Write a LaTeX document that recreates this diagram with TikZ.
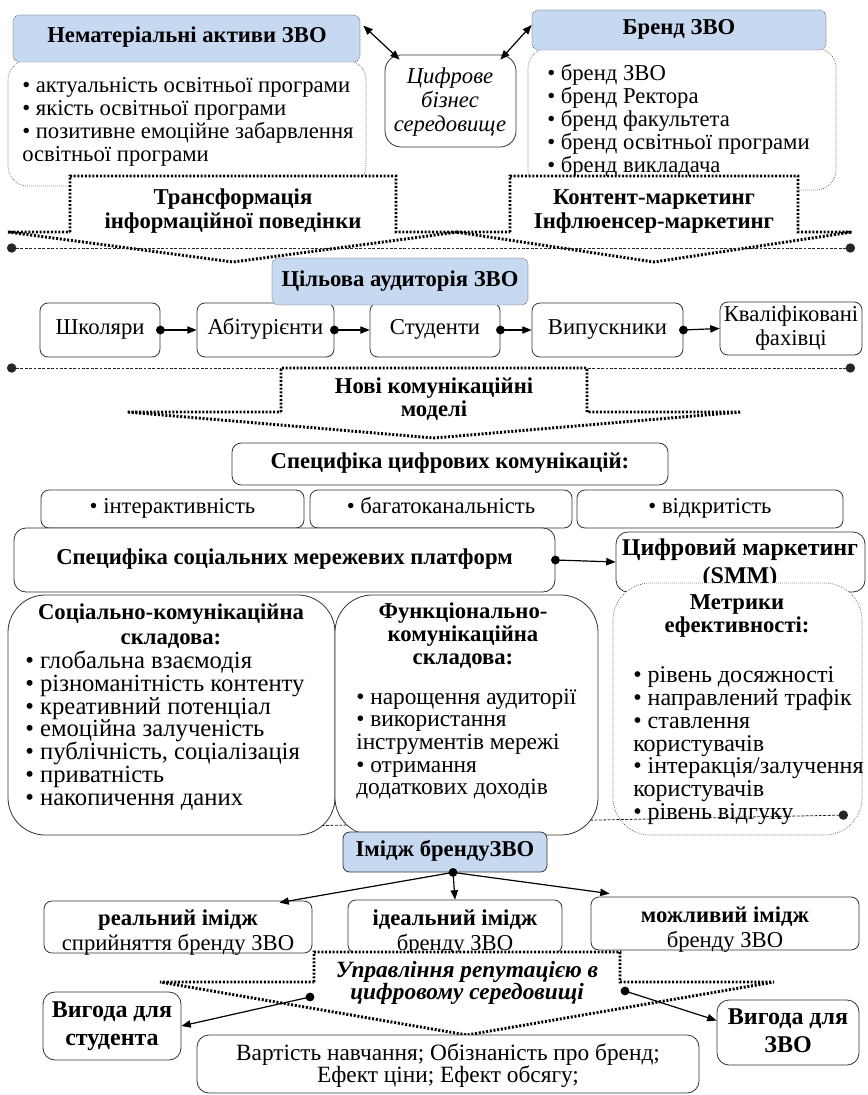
\documentclass[tikz,border=0pt]{standalone}
\usepackage{fontspec}
\setmainfont{Liberation Serif}
\usetikzlibrary{arrows.meta,fit}
\definecolor{hdrblue}{RGB}{198,217,241}
\newcommand\fs{\fontsize{17}{17.25}\selectfont\lineskiplimit=-20pt\lineskip=0pt}
\newcommand\fsl{\fontsize{18.5}{17.1}\selectfont\lineskiplimit=-20pt\lineskip=0pt}
\newcommand\fsm{\fontsize{18}{17.1}\selectfont\lineskiplimit=-20pt\lineskip=0pt}
\newcommand\fsf{\fontsize{17.5}{16.9}\selectfont\lineskiplimit=-20pt\lineskip=0pt}
\newcommand\fsb{\fontsize{17}{18.75}\selectfont\lineskiplimit=-20pt\lineskip=0pt}
\newcommand\fsc{\fontsize{17}{18}\selectfont\lineskiplimit=-20pt\lineskip=0pt}
\newcommand\fsd{\fontsize{18}{21}\selectfont\lineskiplimit=-20pt\lineskip=0pt}
\newcommand\fse{\fontsize{17.5}{16.5}\selectfont\lineskiplimit=-20pt\lineskip=0pt}
\begin{document}
\begin{tikzpicture}[x=0.75pt,y=-0.75pt,
 box/.style={draw=black!80, line width=0.6pt, fill=white, inner sep=0pt, rounded corners=6pt},
 dbox/.style={draw=black!75, line width=0.5pt, densely dotted, fill=white, inner sep=0pt},
 hdr/.style={dbox, fill=hdrblue, rounded corners=5pt},
 txt/.style={inner sep=0pt, font=\fs},
 bigarr/.style={draw=black, line width=2.2pt, dash pattern=on 1.5pt off 1.3pt, fill=white, line join=miter},
 dl/.style={draw=black!85, line width=0.6pt, dash pattern=on 2.2pt off 1.1pt, {Circle[length=7pt]}-{Circle[length=7pt]}},
 conn/.style={line width=0.9pt, -{Triangle[length=7pt,width=5.5pt]}},
 bconn/.style={line width=0.9pt, {Triangle[length=7pt,width=5.5pt]}-{Triangle[length=7pt,width=5.5pt]}},
 dot/.style={fill=black},
]
\useasboundingbox (0,0) rectangle (867,1095);

% ---------- top ----------
\node[dbox, rounded corners=15pt, fit={(8,60)(366,186)}] (nemb) {};
\node[hdr, fit={(13,15)(360,62)}] (nemh) {};
\node[txt, font=\fs\bfseries] (nemht) at (187,38) {\strut Нематеріальні активи ЗВО};
\node[txt, anchor=west, align=left] (neml) at (22,122.5) {\strut• актуальність освітньої програми\\• якість освітньої програми\\• позитивне емоційне забарвлення\\освітньої програми\strut};

\node[dbox, rounded corners=15pt, fit={(528,48)(836,190)}] (brb) {};
\node[hdr, fit={(532,10)(826,50)}] (brh) {};
\node[txt, font=\fs\bfseries] (brht) at (679,30) {\strut Бренд ЗВО};
\node[txt, anchor=west, align=left] (brl) at (547,122) {\strut• бренд ЗВО\\• бренд Ректора\\• бренд факультета\\• бренд освітньої програми\\• бренд викладача\strut};

\node[box, rounded corners=12pt, fit={(385,55)(516,147)}] (cifr) {};
\node[txt, font=\fsc\itshape, align=center] (cifrt) at (450,103) {\strut Цифрове\\бізнес\\середовище\strut};

\draw[bconn] ([shift={(3,11)}]nemh.north east) -- ([shift={(15,5)}]cifr.north west);
\draw[bconn] ([shift={(-16,5)}]cifr.north east) -- ([shift={(0,-5)}]brh.west);

\draw[bigarr] (70,232) -- (70,176) -- (396,176) -- (396,232) -- (458,232) -- (233,262) -- (8,232) -- cycle;
\node[txt, font=\fsc\bfseries, align=center] (trt) at (233,212) {\strut Трансформація\\інформаційної поведінки\strut};
\draw[bigarr] (510,232) -- (510,176) -- (798,176) -- (798,232) -- (852,232) -- (654,262) -- (456,232) -- cycle;
\node[txt, font=\fsc\bfseries, align=center] (kmt) at (654,212) {\strut Контент-маркетинг\\Інфлюенсер-маркетинг\strut};

\coordinate (d1a) at (7,248);
\coordinate (d1b) at (855,248);
\draw[dl] (d1a) -- (d1b);

% ---------- audience ----------
\node[box, fit={(40,303)(160,357)}] (shk) {};
\node[box, fit={(197,303)(334,357)}] (abit) {};
\node[box, fit={(370,303)(500,357)}] (stud) {};
\node[box, fit={(532,303)(683,357)}] (vyp) {};
\node[box, fit={(720,302)(862,355)}] (kval) {};
\node[txt] (shkt) at (shk.center) {\strut Школяри};
\node[txt] (abitt) at (abit.center) {\strut Абітурієнти};
\node[txt] (studt) at (stud.center) {\strut Студенти};
\node[txt] (vypt) at (vyp.center) {\strut Випускники};
\node[txt, align=center, font=\fsc] (kvalt) at (kval.center) {\strut Кваліфіковані\\фахівці\strut};
\node[hdr, fit={(272,258)(528,305)}] (cil) {};
\node[txt, font=\fs\bfseries] (cilt) at (cil.center) {\strut Цільова аудиторія ЗВО};
\draw[conn] (shk.east) -- (abit.west);
\draw[conn] (abit.east) -- (stud.west);
\draw[conn] (stud.east) -- (vyp.west);
\draw[conn] (vyp.east) -- (kval.west);
\fill[dot] (shk.east) circle (3.3pt) (abit.east) circle (3.3pt) (stud.east) circle (3.3pt) (vyp.east) circle (3.3pt);

\coordinate (d2a) at (7,368);
\coordinate (d2b) at (855,368);
\draw[dl] (d2a) -- (d2b);

\draw[bigarr] (281,412) -- (281,368) -- (587,368) -- (587,412) -- (741,412) -- (434,438) -- (127,412) -- cycle;
\node[txt, font=\fs\bfseries, align=center] (novt) at (434,400) {\strut Нові комунікаційні\\моделі\strut};

% ---------- digital comms ----------
\node[box, rounded corners=7pt, fit={(232,443)(668,485)}] (scif) {};
\node[txt, font=\fs\bfseries] (scift) at (scif.center) {\strut Специфіка цифрових комунікацій:};
\node[box, fit={(41,490)(304,528)}] (b1) {};
\node[box, fit={(310,490)(572,528)}] (b2) {};
\node[box, fit={(577,490)(843,528)}] (b3) {};
\node[txt] (b1t) at (b1.center) {\strut• інтерактивність};
\node[txt] (b2t) at (b2.center) {\strut• багатоканальність};
\node[txt] (b3t) at (b3.center) {\strut• відкритість};
\node[box, rounded corners=9pt, fit={(14,528)(555,592)}] (ssoc) {};
\node[txt, font=\fs\bfseries] (ssoct) at (ssoc.center) {\strut Специфіка соціальних мережевих платформ};
\node[box, rounded corners=9pt, fit={(616,532)(865,592)}] (smm) {};
\node[txt, font=\fsd\bfseries, align=center] (smmt) at (740,564) {\strut Цифровий маркетинг\\(SMM)\strut};
\draw[conn] (ssoc.east) -- (smm.west);
\fill[dot] (ssoc.east) circle (3.3pt);

\node[dbox, rounded corners=28pt, fit={(613,583)(862,835)}] (metr) {};
\coordinate (d3a) at (150,829);
\coordinate (d3b) at (848,815);
\draw[dl] (d3a) -- (d3b);
\node[box, rounded corners=28pt, fit={(8,595)(335,835)}] (soc) {};
\node[box, rounded corners=28pt, fit={(335,595)(598,835)}] (func) {};

\node[txt, font=\fsb\bfseries, align=center] (soch) at (171,626.5) {\strut Соціально-комунікаційна\\складова:\strut};
\node[txt, font=\fsl, anchor=west, align=left] (socl) at (25,731.5) {\strut• глобальна взаємодія\\• різноманітність контенту\\• креативний потенціал\\• емоційна залученість\\• публічність, соціалізація\\• приватність\\• накопичення даних\strut};
\node[txt, font=\fs\bfseries, align=center] (funch) at (463,637) {\strut Функціонально-\\комунікаційна\\складова:\strut};
\node[txt, font=\fsf, anchor=west, align=left] (funcl) at (356,745) {\strut• нарощення аудиторії\\• використання\\інструментів мережі\\• отримання\\додаткових доходів\strut};
\node[txt, font=\fs\bfseries, align=center] (metrh) at (737,616.5) {\strut Метрики\\ефективності:\strut};
\node[txt, font=\fsm, anchor=west, align=left] (metrl) at (633,746.5) {\strut• рівень досяжності\\• направлений трафік\\• ставлення\\користувачів\\• інтеракція/залучення\\користувачів\\• рівень відгуку\strut};

% ---------- image ----------
\node[box, fill=hdrblue, rounded corners=5pt, fit={(343,832)(547,872)}] (imh) {};
\node[txt, font=\fs\bfseries] (imht) at (imh.center) {\strut Імідж брендуЗВО};
\node[box, fit={(44,901)(312,953)}] (real) {};
\node[box, fit={(348,900)(562,953)}] (ideal) {};
\node[box, fit={(591,897)(859,950)}] (mozh) {};
\node[txt, font=\fsb, align=center] (realt) at (178,932.5) {\strut\textbf{реальний імідж}\\сприйняття бренду ЗВО\strut};
\node[txt, font=\fsb, align=center] (idealt) at (455,932.5) {\strut\textbf{ідеальний імідж}\\бренду ЗВО\strut};
\node[txt, font=\fsb, align=center] (mozht) at (725,929.5) {\strut\textbf{можливий імідж}\\бренду ЗВО\strut};
\coordinate (imd) at ([xshift=6pt]imh.south);
\draw[conn] (imd) -- ([shift={(-33,2)}]real.north east);
\draw[conn] (imd) -- (ideal.north);
\draw[conn] (imd) -- ([shift={(19,-3)}]mozh.north west);
\fill[dot] (imd) circle (3.3pt);

% ---------- reputation ----------
\draw[bigarr] (314,982) -- (314,952) -- (620,952) -- (620,982) -- (774,982) -- (467,1035) -- (160,982) -- cycle;
\node[txt, font=\fse\bfseries\itshape, align=center] (upt) at (467,984) {\strut Управління репутацією в\\цифровому середовищі\strut};
\node[box, rounded corners=9pt, fit={(43,992)(181,1060)}] (vs) {};
\node[txt, font=\fsd\bfseries, align=center] (vst) at (vs.center) {\strut Вигода для\\студента\strut};
\node[box, rounded corners=9pt, fit={(717,1000)(859,1065)}] (vz) {};
\node[txt, font=\fsd\bfseries, align=center] (vzt) at (vz.center) {\strut Вигода для\\ЗВО\strut};
\node[box, rounded corners=9pt, fit={(197,1035)(699,1093)}] (vart) {};
\node[txt, font=\fse, align=center] (vartt) at (448,1066) {\strut Вартість навчання; Обізнаність про бренд;\\Ефект ціни; Ефект обсягу;\strut};
\coordinate (ud1) at (310,997);
\coordinate (ud2) at (625,991);
\draw[conn] (ud1) -- (vs.east);
\draw[conn] (ud2) -- ([shift={(0,-12)}]vz.west);
\fill[dot] (ud1) circle (3.3pt) (ud2) circle (3.3pt);
\end{tikzpicture}
\end{document}
